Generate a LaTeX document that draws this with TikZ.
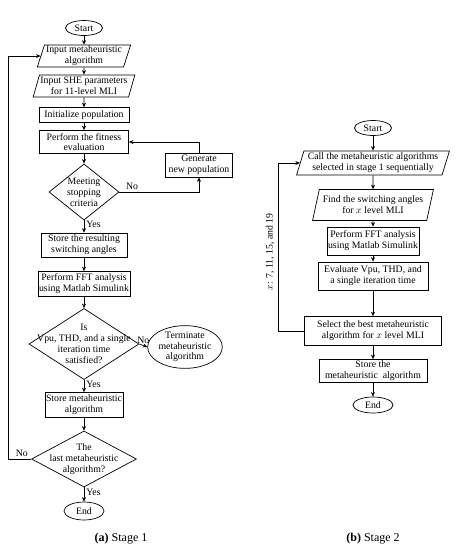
\documentclass[tikz,border=0pt]{standalone}
\usepackage{fontspec}
\setmainfont{Liberation Serif}
\usetikzlibrary{shapes.geometric,arrows.meta}

\begin{document}
\begin{tikzpicture}[x=1pt,y=-1pt,line width=0.7pt,>={Stealth[length=4.5pt,width=4pt]},
	every node/.style={font=\fontsize{9.8}{10.8}\selectfont,align=center},
	procbox/.style={draw,rectangle,inner sep=1pt},
	io/.style={draw,trapezium,trapezium left angle=72,trapezium right angle=108,trapezium stretches=true,inner sep=1pt},
	terminal/.style={draw,ellipse,inner sep=0pt},
	decision/.style={draw,diamond,inner sep=0pt},
	lbl/.style={inner sep=2pt}]
	\useasboundingbox (0,0) rectangle (457,550);

	\node[terminal,minimum width=37,minimum height=15] (start1) at (84,28) {Start};
	\node[io,minimum width=94,minimum height=22] (in1) at (84,56) {Input metaheuristic\\algorithm};
	\node[io,minimum width=94,minimum height=22] (in2) at (84,86) {Input SHE parameters\\for 11-level MLI};
	\node[procbox,minimum width=90,minimum height=15] (init) at (84,115) {Initialize population};
	\node[procbox,minimum width=89,minimum height=23] (fit) at (84,142) {Perform the fitness\\evaluation};
	\node[procbox,minimum width=67,minimum height=24] (gen) at (199,165) {Generate\\new population};
	\node[decision,minimum width=70,minimum height=56,label={center:{Meeting\\stopping\\criteria}}] (d1) at (84,192) {};
	\node[procbox,minimum width=86,minimum height=24] (store1) at (84,245) {Store the resulting\\switching angles};
	\node[procbox,minimum width=88,minimum height=25] (fft1) at (84,284) {Perform FFT analysis\\using Matlab Simulink};
	\node[decision,minimum width=110,minimum height=71,label={center:{Is\\Vpu, THD, and a single\\iteration time\\satisfied?}}] (d2) at (84,344) {};
	\node[terminal,minimum width=61,minimum height=39] (term) at (185,347) {Terminate\\metaheuristic\\algorithm};
	\node[procbox,minimum width=78,minimum height=25] (store2) at (84,405) {Store metaheuristic\\algorithm};
	\node[decision,minimum width=105,minimum height=56,label={center:{The\\last metaheuristic\\algorithm?}}] (d3) at (84,459) {};
	\node[terminal,minimum width=40,minimum height=18] (end1) at (84,511) {End};
	\coordinate (loop1) at (8,459);

	\draw[->] (start1) -- (in1);
	\draw[->] (in1) -- (in2);
	\draw[->] (in2) -- (init);
	\draw[->] (init) -- (fit);
	\draw[->] (fit) -- (d1);
	\draw[->] (d1.east) -| node[lbl,pos=0.08,above] (no1) {No} (gen.south);
	\draw[->] (gen.north) |- (fit.east);
	\draw[->] (d1) -- node[lbl,right,pos=0.3] (yes1) {Yes} (store1);
	\draw[->] (store1) -- (fft1);
	\draw[->] (fft1) -- (d2);
	\draw[->] (d2.east) -- node[lbl,above] (no2) {No} (term.west);
	\draw[->] (d2) -- node[lbl,right,pos=0.4] (yes2) {Yes} (store2);
	\draw[->] (store2) -- (d3);
	\draw[->] (d3) -- node[lbl,right,pos=0.35] (yes3) {Yes} (end1);
	\draw[->] (d3.west) -- node[lbl,above,pos=0.4] (no3) {No} (loop1) |- (in1.west);

	\node[terminal,minimum width=37,minimum height=15] (start2) at (373,128) {Start};
	\node[io,minimum width=153,minimum height=24] (call) at (373,163) {Call the metaheuristic algorithms\\selected in stage 1 sequentially};
	\node[io,minimum width=121,minimum height=31] (find) at (373,205) {Find the switching angles\\for $x$ level MLI};
	\node[procbox,minimum width=92,minimum height=28] (fft2) at (373,241) {Perform FFT analysis\\using Matlab Simulink};
	\node[procbox,minimum width=110,minimum height=28] (eval) at (373,276) {Evaluate Vpu, THD, and\\a single iteration time};
	\node[procbox,minimum width=137,minimum height=29] (select) at (373,331) {Select the best metaheuristic\\algorithm for $x$ level MLI};
	\node[procbox,minimum width=108,minimum height=23] (store3) at (373,371) {Store the\\metaheuristic\ \ algorithm};
	\node[terminal,minimum width=40,minimum height=16] (end2) at (373,405) {End};
	\coordinate (loop2) at (278,331);
	\node[rotate=90] (xlevels) at (270,252) {$x$: 7, 11, 15, and 19};

	\draw[->] (start2) -- (call);
	\draw[->] (call) -- (find);
	\draw[->] (find) -- (fft2);
	\draw[->] (fft2) -- (eval);
	\draw[->] (eval) -- (select);
	\draw[->] (select) -- (store3);
	\draw[->] (store3) -- (end2);
	\draw[->] (select.west) -- (loop2) |- (call.west);

	\node[font=\fontsize{12}{14}\selectfont] (capa) at (121,539) {\textbf{(a)} Stage 1};
	\node[font=\fontsize{12}{14}\selectfont] (capb) at (373,539) {\textbf{(b)} Stage 2};
\end{tikzpicture}
\end{document}
